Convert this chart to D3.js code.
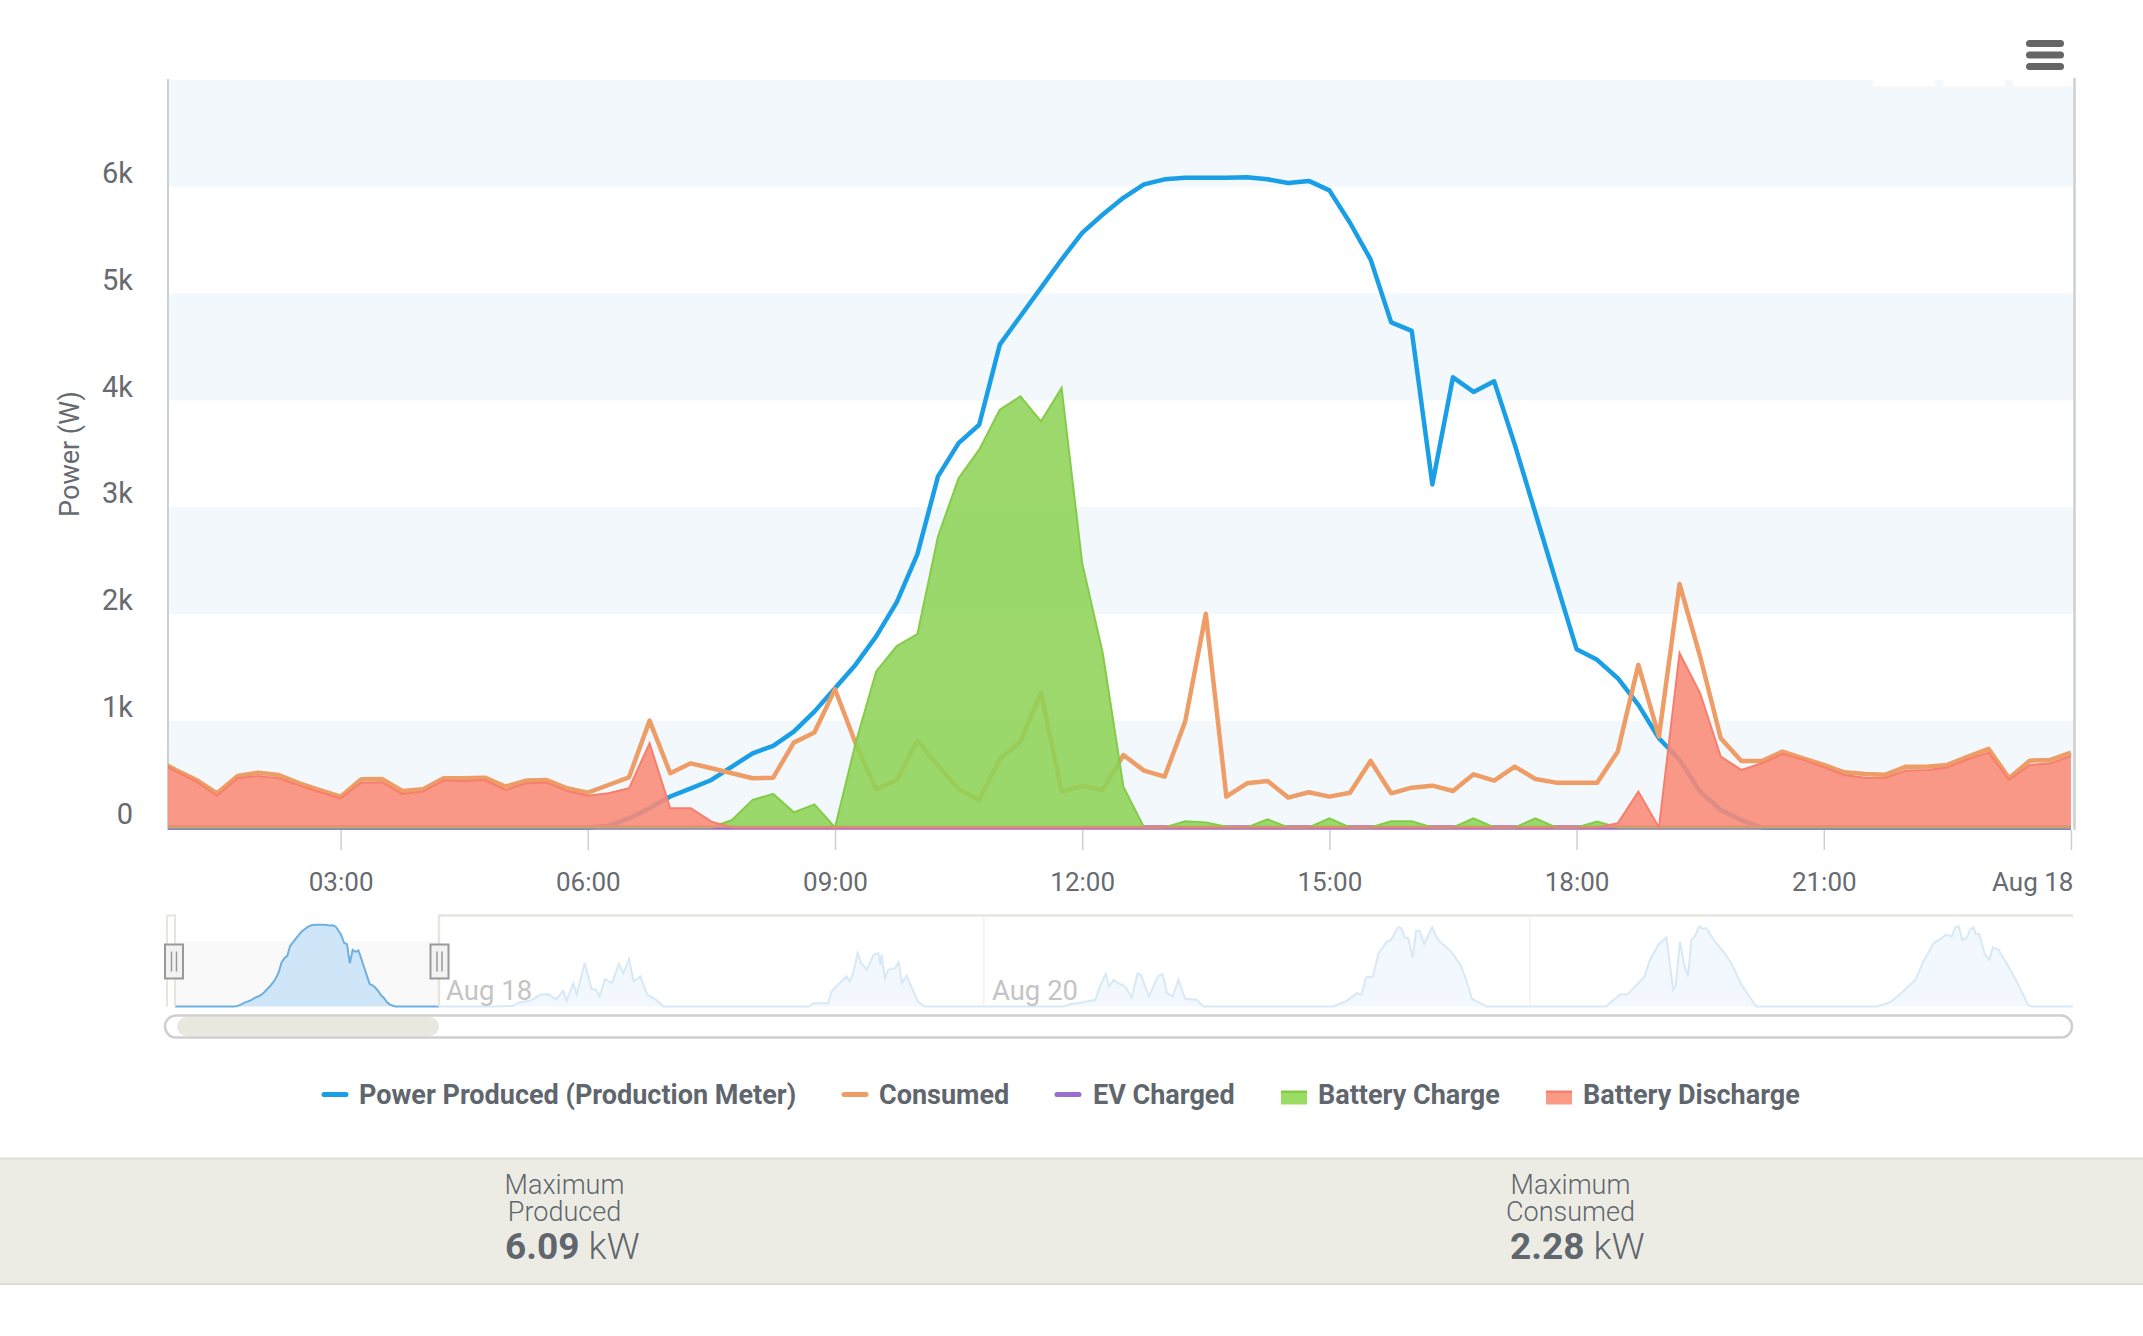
<!DOCTYPE html>
<html lang="en">
<head>
	<meta charset="UTF-8">
	<title>Power</title>
	<script src="https://cdn.jsdelivr.net/npm/d3@7"></script>
	<style>
		body { margin: 0; background: #fff; }
		text { font-family: Roboto, sans-serif; }
	</style>
</head>
<body>
	<div class="chart"></div>
	<script type="text/javascript">
		// quarter hours of Aug 17, first reading is 00:45
		var produced = [0,0,0,0,0,0,0,0,0,0,0,0,0,0,0,0,0,0,0,0,0,0,
			15,85,180,290,367,445,570,695,764,898,1085,1304,1525,1790,2110,2560,3288,3600,3772,4522,4788,5053,5319,5569,5740,5897,6022,6070,6085,6085,6085,6090,6070,6035,6055,5966,5663,5320,4730,4650,3213,4216,4079,4178,3585,2945,2305,1670,1570,1398,1148,836,633,336,164,70,
			0,0,0,0,0,0,0,0,0,0,0,0,0,0,0,0];
		var consumed = [640,539,445,320,483,514,492,414,351,289,451,455,342,358,461,461,467,383,439,445,367,326,398,470,1001,508,601,555,508,461,467,795,889,1295,789,358,445,814,579,358,258,639,804,1264,336,389,351,679,533,476,992,2001,289,414,436,280,330,289,326,623,320,373,392,342,498,439,570,454,420,420,420,711,1523,851,2280,1601,836,623,623,711,648,586,517,501,495,570,570,586,664,736,461,626,633,701];
		var evCharged = [0,0,0,0,0,0,0,0,0,0,0,0,0,0,0,0,0,0,0,0,0,0,0,0,0,0,0,0,0,0,0,0,0,0,0,0,0,0,0,0,0,0,0,0,0,0,0,0,0,0,0,0,0,0,0,0,0,0,0,0,0,0,0,0,0,0,0,0,0,0,0,0,0,0,0,0,0,0,0,0,0,0,0,0,0,0,0,0,0,0,0,0,0,0];
		var batteryCharge = [0,0,0,0,0,0,0,0,0,0,0,0,0,0,0,0,0,0,0,0,0,0,0,0,0,0,0,0,
			70,258,314,142,217,0,789,1460,1700,1810,2725,3272,3538,3913,4037,3803,4116,2476,1632,383,0,0,58,48,8,0,77,0,0,86,0,0,58,58,0,0,86,0,0,86,0,0,55,
			0,0,0,0,0,0,0,0,0,0,0,0,0,0,0,0,0,0,0,0,0,0,0];
		var batteryDischarge = [640,525,430,297,461,483,461,392,330,273,420,424,314,336,439,436,445,351,414,420,342,298,320,367,789,180,180,55,0,
			0,0,0,0,0,0,0,0,0,0,0,0,0,0,0,0,0,0,0,0,0,0,0,0,0,0,0,0,0,0,0,0,0,0,0,0,0,0,0,0,0,0,
			39,336,0,1632,1257,664,539,601,689,633,564,492,467,467,533,539,561,639,701,445,586,601,670];

		var yTickValues = [0,1000,2000,3000,4000,5000,6000];
		var yTickLabels = ['0','1k','2k','3k','4k','5k','6k'];
		var xTickHours = [3,6,9,12,15,18,21,24];
		var xTickLabels = ['03:00','06:00','09:00','12:00','15:00','18:00','21:00','Aug 18'];

		// navigator: rest of the week after Aug 17, hours since Aug 17 00:00
		var navHours = [24,27.7,28.9,30.6,31.2,32.1,33,33.7,34.4,35,35.3,35.9,36.2,36.9,37.5,37.9,38.2,38.7,39.3,39.9,40.3,40.8,41.2,41.8,42.4,43.2,43.8,56.6,57,58.3,58.6,59.9,60.2,60.5,60.9,61.2,61.7,62.3,62.7,62.9,63,63.3,63.6,64.2,64.5,64.8,65.2,65.6,66.2,66.8,79,79.6,80.7,81.8,82.2,82.7,83,83.4,83.8,84.4,85,85.5,85.8,86.5,87.3,87.7,88.1,88.6,89.1,89.7,90.7,91.3,102.7,103.9,104.8,105.2,105.6,106.2,106.7,107.4,107.8,108.4,108.7,109,109.3,109.7,110,110.3,110.7,111.4,111.9,113,113.9,114.4,114.9,116.2,126.7,127.9,128.6,130.1,130.5,131.3,132,132.2,132.6,132.8,133.2,133.6,133.9,134.2,134.5,134.9,135.2,135.5,136.3,137,137.7,138.6,139.9,150.5,151.7,152.8,153.9,154.6,155.5,156,156.6,157.1,157.4,157.7,158,158.4,158.7,159,159.2,159.5,160,160.4,160.7,161.2,161.9,162.8,163.8,164.1,168];
		var navPower = [0,0,0,50,323,423,872,921,523,1170,423,1743,872,3237,1319,1245,747,2042,1743,3162,2490,3536,1868,2241,872,498,0,0,249,249,1120,2241,1868,2490,3984,3237,2739,3860,3984,3112,3860,2117,2739,2864,3311,1743,2316,1494,374,0,0,174,324,498,1494,2415,1494,1992,1743,1494,672,2440,2365,747,2241,2415,1000,747,1992,573,498,0,0,423,996,872,2166,2241,3984,4806,4980,5901,5852,5154,5105,3660,5652,5652,4656,5901,4980,4158,3112,1992,573,0,0,872,921,2241,3361,4607,5154,3860,1245,1494,4806,2988,2241,4980,5229,5976,5802,5852,4806,4109,3237,1618,0,0,324,1120,1992,3361,4731,4980,5353,5229,5901,5976,4980,5105,5727,5901,5403,5403,3860,3486,4408,4233,3237,1868,125,0,0];
		var navDayHours = [72,120];
		var navDayLabels = ['Aug 18','Aug 20'];
		var navDayLabelHours = [24,72];

		var legendNames = ['Power Produced (Production Meter)','Consumed','EV Charged','Battery Charge','Battery Discharge'];
		var statTitles = [['Maximum','Produced'],['Maximum','Consumed']];
		var statValues = ['6.09','2.28'];

		var BLUE = '#1a9fe6', ORANGE = '#ee9d66', PURPLE = '#9a6fd0', GREEN = '#8ed356', RED = '#f98a76';
		var GREY = '#666b70', DARK = '#5f666d';

		var svg = d3.select('.chart').append('svg')
			.attr('width',2143).attr('height',1336)
			.style('display','block');

		var x = d3.scaleLinear().domain([0.905,24.025]).range([168,2073]);
		var y = d3.scaleLinear().domain([0,7000]).range([827.5,80]);
		var hoursOf = produced.map(function(d,i){ return 0.75 + i * 0.25; });

		// alternating bands
		svg.append('g').selectAll('rect').data([0,2000,4000,6000]).enter().append('rect')
			.attr('x',x.range()[0]).attr('width',x.range()[1] - x.range()[0] + 2)
			.attr('y',function(d){ return y(d + 1000); })
			.attr('height',function(d){ return y(d) - y(d + 1000); })
			.attr('fill','#f2f8fc');
		// the few white nicks on the top edge
		svg.append('g').selectAll('rect').data([1873,1943,2013]).enter().append('rect')
			.attr('x',function(d){ return d; }).attr('y',78).attr('width',62).attr('height',8)
			.attr('fill','#fff');

		svg.append('line').attr('x1',168).attr('x2',168).attr('y1',79).attr('y2',830).attr('stroke','#ccd0d3').attr('stroke-width',2);
		svg.append('line').attr('x1',2074.5).attr('x2',2074.5).attr('y1',78).attr('y2',830).attr('stroke','#ccd0d3').attr('stroke-width',2.5);

		// axes
		var xAxis = d3.axisBottom(x).tickValues(xTickHours).tickFormat(function(d,i){ return xTickLabels[i]; }).tickSize(20).tickPadding(23);
		var xg = svg.append('g').attr('transform','translate(0,830)').call(xAxis);
		xg.select('.domain').remove();
		xg.selectAll('line').attr('stroke','#ccd0d3').attr('stroke-width',1.5);
		xg.selectAll('text').attr('font-size',26).attr('fill',GREY).attr('font-family','Roboto');
		xg.selectAll('.tick:last-of-type text').attr('text-anchor','end').attr('dx',2);

		var yAxis = d3.axisLeft(y).tickValues(yTickValues).tickFormat(function(d,i){ return yTickLabels[i]; }).tickSize(0).tickPadding(35);
		var yg = svg.append('g').attr('transform','translate(168,-13.5)').call(yAxis);
		yg.select('.domain').remove();
		yg.selectAll('text').attr('font-size',29).attr('fill',GREY).attr('font-family','Roboto');

		svg.append('text').attr('transform','translate(79,454) rotate(-90)')
			.attr('text-anchor','middle').attr('font-size',27).attr('fill',GREY).text('Power (W)');

		// series, lines below the areas
		svg.append('clipPath').attr('id','plot').append('rect').attr('x',168).attr('y',70).attr('width',1906).attr('height',761);
		var plot = svg.append('g').attr('clip-path','url(#plot)');
		var line = d3.line().x(function(d,i){ return x(hoursOf[i]); }).y(function(d){ return y(d); });
		var area = d3.area().x(function(d,i){ return x(hoursOf[i]); }).y0(y(0)).y1(function(d){ return y(d); });

		plot.append('path').attr('d',line(produced)).attr('fill','none').attr('stroke',BLUE).attr('stroke-width',4.5).attr('stroke-linejoin','round');
		plot.append('path').attr('d',line(consumed)).attr('fill','none').attr('stroke',ORANGE).attr('stroke-width',4.5).attr('stroke-linejoin','round');
		plot.append('path').attr('d',line(evCharged)).attr('fill','none').attr('stroke',PURPLE).attr('stroke-width',4.5);

		plot.append('path').attr('d',area(batteryCharge)).attr('fill',GREEN).attr('fill-opacity',0.88);
		plot.append('path').attr('d',line(batteryCharge)).attr('fill','none').attr('stroke','#84cb48').attr('stroke-width',2);
		plot.append('path').attr('d',area(batteryDischarge)).attr('fill',RED).attr('fill-opacity',0.88);
		plot.append('path').attr('d',line(batteryDischarge)).attr('fill','none').attr('stroke','#f57f6c').attr('stroke-width',2);

		// everything under the plot
		var lower = svg.append('g').attr('transform','translate(0,1.5)');

		// navigator
		var navX = d3.scaleLinear().domain([0.88,167.75]).range([175,2073]);
		var navY = d3.scaleLinear().domain([0,7000]).range([1005,911.1]);
		var navAll = hoursOf.map(function(h,i){ return [h,produced[i]]; })
			.concat(navHours.map(function(h,i){ return [h,navPower[i]]; }));
		var navLine = d3.line().x(function(d){ return navX(d[0]); }).y(function(d){ return navY(d[1]); });
		var navArea = d3.area().x(function(d){ return navX(d[0]); }).y0(navY(0)).y1(function(d){ return navY(d[1]); });

		svg.append('clipPath').attr('id','nav').append('rect').attr('x',175).attr('y',905).attr('width',1898).attr('height',103);
		lower.append('rect').attr('x',175).attr('y',940).attr('width',264).attr('height',65).attr('fill','#f9f9f9');
		var nav = lower.append('g').attr('clip-path','url(#nav)');
		nav.append('path').attr('d',navArea(navAll)).attr('fill','#cfe5f8');
		nav.append('path').attr('d',navLine(navAll)).attr('fill','none').attr('stroke','#6fb0e0').attr('stroke-width',2);
		// everything outside the selected range is washed out
		lower.append('rect').attr('x',439).attr('y',914).attr('width',1634).attr('height',95).attr('fill','#fff').attr('fill-opacity',0.72);

		lower.append('g').selectAll('line').data(navDayHours).enter().append('line')
			.attr('x1',function(d){ return navX(d); }).attr('x2',function(d){ return navX(d); })
			.attr('y1',916).attr('y2',1005).attr('stroke','#f0f0ee').attr('stroke-width',1.5);
		lower.append('g').selectAll('text').data(navDayLabels).enter().append('text')
			.attr('x',function(d,i){ return navX(navDayLabelHours[i]) + 8; })
			.attr('y',998).attr('font-size',27.5).attr('fill','#c4c4c4')
			.text(function(d){ return d; });

		lower.append('path').attr('d','M439,1005V914H2073').attr('fill','none').attr('stroke','#e6e6de').attr('stroke-width',2.5);
		lower.append('path').attr('d','M167,1005V914H175V1005').attr('fill','none').attr('stroke','#e6e6de').attr('stroke-width',2);

		var handles = lower.append('g').selectAll('g').data([174,439.5]).enter().append('g')
			.attr('transform',function(d){ return 'translate(' + d + ',943)'; });
		handles.append('rect').attr('x',-9).attr('y',0).attr('width',18).attr('height',34)
			.attr('fill','#f2f2f2').attr('stroke','#999').attr('stroke-width',2);
		handles.selectAll('line').data([-2.5,2.5]).enter().append('line')
			.attr('x1',function(d){ return d; }).attr('x2',function(d){ return d; })
			.attr('y1',7).attr('y2',27).attr('stroke','#999').attr('stroke-width',1.5);

		// scrollbar
		lower.append('rect').attr('x',165).attr('y',1014).attr('width',1907).attr('height',22).attr('rx',11)
			.attr('fill','#fff').attr('stroke','#cfcfcf').attr('stroke-width',2.5);
		lower.append('rect').attr('x',177).attr('y',1015.5).attr('width',262).attr('height',19).attr('rx',9.5)
			.attr('fill','#e8e8df');

		// legend
		var legendLineX = [324,844,1057];
		var legendColors = [BLUE,ORANGE,PURPLE];
		lower.append('g').selectAll('line').data(legendLineX).enter().append('line')
			.attr('x1',function(d){ return d; }).attr('x2',function(d){ return d + 22; })
			.attr('y1',1093).attr('y2',1093)
			.attr('stroke-width',5).attr('stroke-linecap','round')
			.attr('stroke',function(d,i){ return legendColors[i]; });
		var legendBoxX = [1281,1546];
		var legendBoxColors = [['#9bdc62','#84cb48'],['#fb9a87','#f57f6c']];
		legendBoxX.forEach(function(d,i){
			lower.append('rect').attr('x',d).attr('y',1090).attr('width',26).attr('height',13).attr('fill',legendBoxColors[i][0]);
			lower.append('rect').attr('x',d).attr('y',1089).attr('width',26).attr('height',2.5).attr('fill',legendBoxColors[i][1]);
		});
		var legendTextX = [359,879,1093,1318,1583];
		lower.append('g').selectAll('text').data(legendNames).enter().append('text')
			.attr('x',function(d,i){ return legendTextX[i]; })
			.attr('y',1102).attr('font-size',27).attr('font-weight',700).attr('fill',DARK)
			.text(function(d){ return d; });

		// stats band
		svg.append('rect').attr('x',-5).attr('y',1158.5).attr('width',2153).attr('height',125.5)
			.attr('fill','#ecece4').attr('stroke','#dfdfd6').attr('stroke-width',2);
		var statX = [564.5,1570.5];
		var statNumX = [505,1510];
		statTitles.forEach(function(t,i){
			t.forEach(function(s,j){
				svg.append('text').attr('x',statX[i]).attr('y',1194 + j * 26.5).attr('text-anchor','middle')
					.attr('font-size',27).attr('font-weight',300).attr('fill',DARK).text(s);
			});
			var v = svg.append('text').attr('x',statNumX[i]).attr('y',1259).attr('fill',DARK).attr('font-size',37);
			v.append('tspan').attr('font-weight',700).text(statValues[i]);
			v.append('tspan').attr('font-weight',300).attr('dx',9).text('kW');
		});

		// menu icon
		svg.append('g').selectAll('rect').data([40,51.5,63]).enter().append('rect')
			.attr('x',2026).attr('y',function(d){ return d; }).attr('width',38).attr('height',7).attr('rx',3.5)
			.attr('fill','#666');
	</script>
</body>
</html>
